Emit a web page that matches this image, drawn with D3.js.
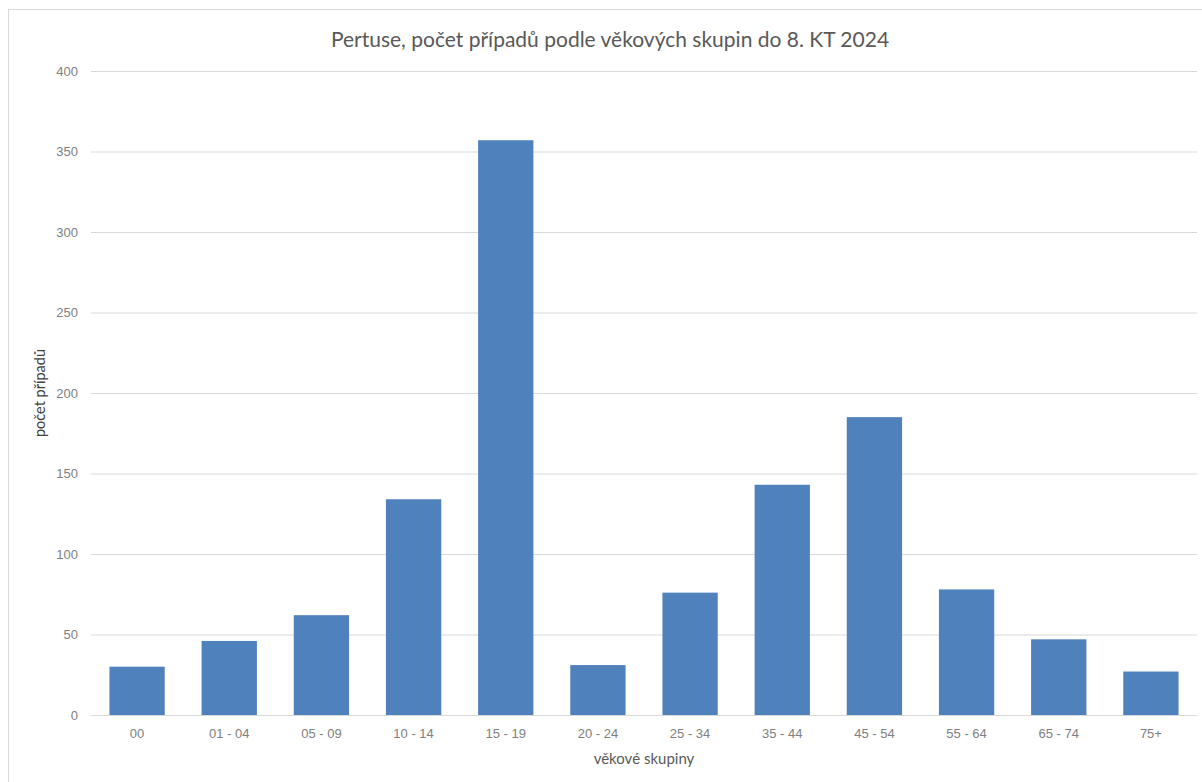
<!DOCTYPE html>
<html>
<head>
<meta charset="utf-8">
<script src="https://cdn.jsdelivr.net/npm/d3@7"></script>
<style>
  body { margin: 0; background: #fff; }
  svg { display: block; font-family: Lato, "Open Sans", sans-serif; }
</style>
</head>
<body>
<svg id="chart"></svg>
<script>
var title = "Pertuse, počet případů podle věkových skupin do 8. KT 2024";
var categories = ["00", "01 - 04", "05 - 09", "10 - 14", "15 - 19", "20 - 24",
  "25 - 34", "35 - 44", "45 - 54", "55 - 64", "65 - 74", "75+"];
var cases = [30, 46, 62, 134, 357, 31, 76, 143, 185, 78, 47, 27];
var yTicks = [0, 50, 100, 150, 200, 250, 300, 350, 400];

var width = 1202, height = 782;
var margin = { top: 71, right: 5, bottom: 67, left: 91 };

var svg = d3.select("svg#chart")
  .attr("width", width).attr("height", height);

// rámeček grafu
svg.append("rect")
  .attr("x", 8.5).attr("y", 9.5)
  .attr("width", 1210).attr("height", 790)
  .attr("fill", "none").attr("stroke", "#d9d9d9");

var x = d3.scaleBand()
  .domain(categories)
  .range([margin.left, width - margin.right])
  .paddingInner(0.4).paddingOuter(0.2);

var y = d3.scaleLinear()
  .domain([0, 400])
  .range([height - margin.bottom, margin.top]);

// mřížka + popisky osy y
var yAxis = svg.append("g")
  .attr("transform", "translate(" + margin.left + ",0)")
  .call(d3.axisLeft(y).tickValues(yTicks)
    .tickSize(-(width - margin.left - margin.right)).tickPadding(13));
yAxis.select(".domain").remove();
yAxis.selectAll(".tick line").attr("stroke", "#d9d9d9");
yAxis.selectAll(".tick text")
  .attr("fill", "#808080").style("font-size", "13px");

// sloupce
svg.selectAll("rect.bar").data(cases)
  .enter().append("rect")
  .attr("class", "bar")
  .attr("x", function(d, i) { return x(categories[i]); })
  .attr("y", function(d) { return y(d); })
  .attr("width", x.bandwidth())
  .attr("height", function(d) { return y(0) - y(d); })
  .attr("fill", "#4f81bd");

// osa x
var xAxis = svg.append("g")
  .attr("transform", "translate(0," + y(0) + ")")
  .call(d3.axisBottom(x).tickSize(0).tickPadding(14));
xAxis.select(".domain").remove();
xAxis.selectAll(".tick text")
  .attr("fill", "#808080").style("font-size", "13px");

// titulky
svg.append("text")
  .attr("x", 610).attr("y", 47)
  .attr("text-anchor", "middle")
  .attr("fill", "#595959")
  .style("font-size", "21px")
  .text(title);

svg.append("text")
  .attr("x", (margin.left + width - margin.right) / 2).attr("y", 764)
  .attr("text-anchor", "middle")
  .attr("fill", "#595959")
  .style("font-size", "15px")
  .text("věkové skupiny");

svg.append("text")
  .attr("transform", "translate(45," + y(200) + ") rotate(-90)")
  .attr("text-anchor", "middle")
  .attr("fill", "#404040")
  .style("font-size", "14.5px")
  .text("počet případů");
</script>
</body>
</html>
